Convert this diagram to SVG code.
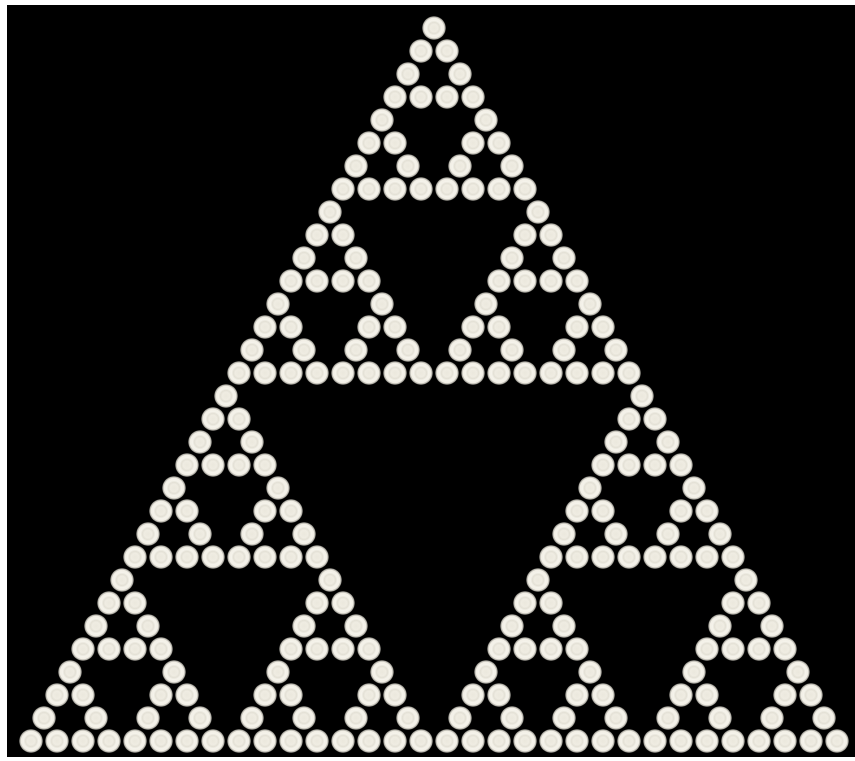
<svg xmlns="http://www.w3.org/2000/svg" xmlns:xlink="http://www.w3.org/1999/xlink" width="855" height="761" viewBox="0 0 855 761">
<defs>
<radialGradient id="dot" cx="0.5" cy="0.5" r="0.5">
<stop offset="0" stop-color="#ebe8dd"/>
<stop offset="0.3" stop-color="#efece2"/>
<stop offset="0.45" stop-color="#e4e1d6"/>
<stop offset="0.6" stop-color="#f5f3eb"/>
<stop offset="0.78" stop-color="#f2efe6"/>
<stop offset="0.9" stop-color="#a8a69e"/>
<stop offset="1" stop-color="#000" stop-opacity="0"/>
</radialGradient>
<g id="t0"><circle cx="0" cy="0" r="12.5" fill="url(#dot)"/></g>
<g id="t1"><use href="#t0"/><use href="#t0" x="-13" y="23"/><use href="#t0" x="13" y="23"/></g>
<g id="t2"><use href="#t1"/><use href="#t1" x="-26" y="46"/><use href="#t1" x="26" y="46"/></g>
<g id="t3"><use href="#t2"/><use href="#t2" x="-52" y="92"/><use href="#t2" x="52" y="92"/></g>
<g id="t4"><use href="#t3"/><use href="#t3" x="-104" y="184"/><use href="#t3" x="104" y="184"/></g>
<g id="t5"><use href="#t4"/><use href="#t4" x="-208" y="368"/><use href="#t4" x="208" y="368"/></g>
</defs>
<rect x="0" y="0" width="855" height="761" fill="#ffffff"/>
<rect x="7" y="5" width="848" height="752" fill="#000000"/>
<g id="sierpinski">
<use href="#t5" x="434" y="28"/>
</g>
</svg>
